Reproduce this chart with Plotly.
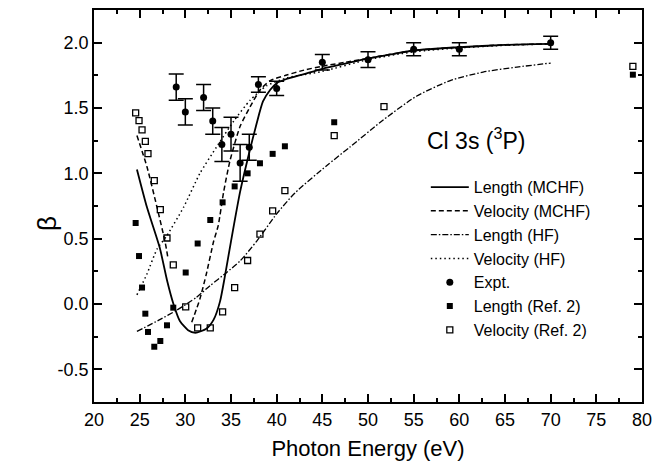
import plotly.graph_objects as go

# ---- data ----
len_mchf_x = [24.7, 25.8, 27.2, 28.0, 28.7, 29.4, 30.3, 31.1, 32.3, 33.1, 33.8, 34.3, 35.0, 36.0, 37.0, 37.8, 38.5, 39.3, 40.0, 41.0, 43.0, 45.0, 47.5, 50.0, 52.5, 55.0, 60.0, 65.0, 70.0]
len_mchf_y = [1.03, 0.74, 0.43, 0.18, 0.0, -0.13, -0.20, -0.22, -0.19, -0.12, 0.02, 0.20, 0.48, 0.86, 1.16, 1.38, 1.55, 1.64, 1.69, 1.72, 1.76, 1.80, 1.84, 1.88, 1.91, 1.94, 1.965, 1.983, 1.99]

vel_mchf_x = [24.7, 25.8, 26.9, 27.8, 28.1, None, 30.7, 31.6, 32.3, 33.1, 33.6, 34.2, 34.9, 36.0, 37.1, 38.2, 39.3, 41.0, 43.0, 45.0, 47.5, 50.0, 55.0, 60.0, 65.0, 70.0]
vel_mchf_y = [1.29, 1.05, 0.74, 0.47, 0.35, None, -0.14, 0.04, 0.23, 0.48, 0.60, 0.86, 1.10, 1.36, 1.51, 1.64, 1.71, 1.75, 1.79, 1.82, 1.85, 1.88, 1.94, 1.965, 1.983, 1.99]

len_hf_x = [24.7, 27.2, 29.0, 31.2, 32.7, 34.5, 36.0, 37.8, 40.0, 42.0, 45.5, 48.0, 51.7, 55.3, 59.0, 62.6, 66.3, 70.0]
len_hf_y = [-0.21, -0.12, -0.05, 0.05, 0.14, 0.24, 0.33, 0.48, 0.69, 0.85, 1.06, 1.20, 1.41, 1.59, 1.71, 1.775, 1.813, 1.844]

vel_hf_x = [24.7, 25.8, 26.9, 27.95, 29.8, 31.6, 33.4, 35.3, 37.1, 38.9, 41.1, 45.0, 50.0, 55.0, 60.0, 65.0, 70.0]
vel_hf_y = [0.07, 0.23, 0.42, 0.52, 0.74, 1.0, 1.2, 1.40, 1.56, 1.67, 1.73, 1.78, 1.87, 1.93, 1.96, 1.98, 1.99]

expt_x = [29, 30, 32, 33, 34, 35, 36, 37, 38, 40, 45, 50, 55, 60, 70]
expt_y = [1.66, 1.47, 1.58, 1.40, 1.22, 1.30, 1.08, 1.20, 1.68, 1.65, 1.85, 1.87, 1.95, 1.95, 2.00]
expt_err = [0.10, 0.10, 0.10, 0.10, 0.13, 0.13, 0.14, 0.10, 0.06, 0.055, 0.06, 0.06, 0.05, 0.05, 0.05]

ref_len_x = [24.56, 24.93, 25.26, 25.62, 25.91, 26.6, 27.26, 27.99, 28.68, 30.04, 31.35, 32.73, 34.08, 35.4, 36.82, 38.17, 39.56, 40.9, 46.3, 79.0]
ref_len_y = [0.62, 0.367, 0.126, -0.074, -0.214, -0.327, -0.283, -0.163, -0.028, 0.241, 0.463, 0.643, 0.778, 0.90, 1.0, 1.077, 1.149, 1.207, 1.391, 1.755]

ref_vel_x = [24.56, 24.93, 25.26, 25.62, 25.91, 26.6, 27.26, 27.99, 28.68, 30.04, 31.35, 32.73, 34.08, 35.4, 36.82, 38.17, 39.56, 40.9, 46.3, 51.75, 79.0]
ref_vel_y = [1.463, 1.404, 1.333, 1.245, 1.151, 0.944, 0.722, 0.505, 0.30, -0.022, -0.183, -0.183, -0.06, 0.126, 0.333, 0.535, 0.712, 0.867, 1.289, 1.511, 1.818]

x_ticks = [20, 25, 30, 35, 40, 45, 50, 55, 60, 65, 70, 75, 80]
y_ticks = [-0.5, 0.0, 0.5, 1.0, 1.5, 2.0]
y_tick_text = ["-0.5", "0.0", "0.5", "1.0", "1.5", "2.0"]

FONT = "Liberation Sans, Arial, Helvetica, sans-serif"

fig = go.Figure()
fig.add_trace(go.Scatter(x=len_mchf_x, y=len_mchf_y, mode="lines", name="Length (MCHF)",
                         line=dict(color="black", width=1.8, shape="spline", smoothing=0.6)))
fig.add_trace(go.Scatter(x=vel_mchf_x, y=vel_mchf_y, mode="lines", name="Velocity (MCHF)",
                         line=dict(color="black", width=1.5, dash="5px,3px", shape="spline", smoothing=0.6)))
fig.add_trace(go.Scatter(x=len_hf_x, y=len_hf_y, mode="lines", name="Length (HF)",
                         line=dict(color="black", width=1.3, dash="6px,2px,1.5px,2px", shape="spline", smoothing=0.6)))
fig.add_trace(go.Scatter(x=vel_hf_x, y=vel_hf_y, mode="lines", name="Velocity (HF)",
                         line=dict(color="black", width=1.5, dash="1.5px,3px", shape="spline", smoothing=0.6)))
fig.add_trace(go.Scatter(x=expt_x, y=expt_y, mode="markers", name="Expt.",
                         marker=dict(symbol="circle", size=7, color="black"),
                         error_y=dict(type="data", array=expt_err, color="black", thickness=1.5, width=7.5)))
fig.add_trace(go.Scatter(x=ref_len_x, y=ref_len_y, mode="markers", name="Length (Ref. 2)",
                         marker=dict(symbol="square", size=6, color="black")))
fig.add_trace(go.Scatter(x=ref_vel_x, y=ref_vel_y, mode="markers", name="Velocity (Ref. 2)",
                         marker=dict(symbol="square-open", size=6, color="black", line=dict(width=1.3, color="black"))))

fig.add_annotation(x=61.85, y=1.266, xref="x", yref="y", text="Cl 3s (<sup>3</sup>P)",
                   showarrow=False, font=dict(family=FONT, size=23, color="black"))
# y-axis title (β), placed next to the tick labels as in the reference
fig.add_annotation(x=-0.0858, y=0.4566, xref="paper", yref="paper", text="β", textangle=-90,
                   xanchor="center", yanchor="middle",
                   showarrow=False, font=dict(family=FONT, size=26, color="black"))

axis_common = dict(showline=True, linecolor="black", linewidth=1.8, mirror="allticks",
                   ticks="inside", ticklen=8, tickwidth=1.5, tickcolor="black",
                   showgrid=False, zeroline=False, ticklabeloverflow="allow", automargin=False,
                   tickfont=dict(family=FONT, size=18, color="black"))

fig.update_xaxes(range=[20, 80], tickvals=x_ticks,
                 minor=dict(dtick=2.5, ticks="inside", ticklen=4, tickwidth=1.5, tickcolor="black"),
                 title=dict(text="Photon Energy (eV)", font=dict(family=FONT, size=22, color="black"), standoff=12),
                 **axis_common)
fig.update_yaxes(range=[-0.75, 2.25], tickvals=y_ticks, ticktext=y_tick_text,
                 minor=dict(dtick=0.25, tick0=0, ticks="inside", ticklen=4, tickwidth=1.5, tickcolor="black"),
                 **axis_common)

fig.update_layout(
    width=652, height=466, autosize=False,
    margin=dict(l=94, r=10, t=10, b=64),
    paper_bgcolor="white", plot_bgcolor="white",
    font=dict(family=FONT, color="black"),
    legend=dict(x=0.6055, y=0.5915, xanchor="left", yanchor="top",
                bgcolor="rgba(0,0,0,0)", borderwidth=0,
                font=dict(family=FONT, size=16, color="black"),
                itemwidth=38, tracegroupgap=0),
    showlegend=True,
)

# remove the default page margin/scrollbars so the fixed-size figure sits at the window origin
fig.write_html(
    "out.html",
    config={"displayModeBar": False, "responsive": False},
    post_script="document.documentElement.style.overflow='hidden';document.body.style.margin='0px';",
)
